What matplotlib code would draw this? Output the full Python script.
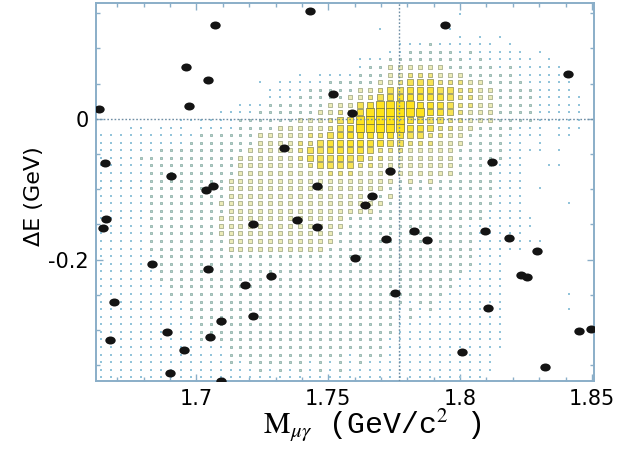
import numpy as np
import matplotlib.pyplot as plt
from matplotlib.markers import MarkerStyle
from matplotlib.transforms import Affine2D
from matplotlib.ticker import MultipleLocator

plt.rcParams['mathtext.fontset'] = 'stix'

# axis window (GeV/c^2 and GeV)
m_lo, m_hi = 1.6619, 1.8509
de_lo, de_hi = -0.3726, 0.1650
tau_mass = 1.777

# signal MC box plot, 50 x 50 bins, level 0..9 = box size, top row first
box_levels = [
    "0000000000" "0000000000" "0000000000" "0000000000" "0000000000",
    "0000000000" "0000000000" "0000000000" "0000001000" "0000000000",
    "0000000000" "0000000000" "0000000000" "0000000000" "0000000000",
    "0000000000" "0000000000" "0000000010" "0000010000" "0000000000",
    "0000000000" "0000000000" "0000000000" "0000001010" "1000000000",
    "0000000000" "0000000000" "0000000000" "1112111111" "0100000000",
    "0000000000" "0000000000" "0000000001" "1222221211" "1110100000",
    "0000000000" "0000000000" "0000001112" "2222222121" "1111010000",
    "0000000000" "0000000000" "0000001223" "3333322222" "1211111000",
    "0000000000" "0000000000" "1011112223" "3444333222" "2211111100",
    "0000000000" "0000001011" "1112222233" "4555444332" "2221111100",
    "0000000000" "0000000111" "1222223345" "5666554433" "2222111100",
    "0000000000" "0000000111" "2222233456" "7776654433" "2222111110",
    "0000000000" "0000111222" "2223335688" "8877654433" "2222111110",
    "0000000000" "0011112222" "2233446899" "9887654333" "2222111110",
    "0000000011" "1111222222" "3334568999" "8775544333" "2222111110",
    "0001101110" "1111222233" "3334578898" "8665443322" "2211101110",
    "1111111111" "2222223333" "3445677777" "6554433222" "2111101100",
    "1111111112" "2222223333" "4456677665" "5444333222" "2110100000",
    "1111112222" "2222233333" "4556666544" "4333332222" "2111101000",
    "1111222222" "2222333333" "4555655443" "3333332222" "2110000000",
    "1111122222" "2222333333" "3455554433" "3333332222" "1110011000",
    "1111122222" "2222333333" "3334443333" "3333332222" "1110000000",
    "1111122222" "2223333333" "3333333333" "2323222222" "1110000000",
    "1111122222" "2223333333" "3333333332" "2222222222" "1110100000",
    "1111122222" "2223333333" "3333333323" "2222222222" "1110000000",
    "1111122222" "2233333333" "3333333332" "2222222222" "1110000100",
    "1111122222" "2223333333" "3333333322" "2222222221" "1110000000",
    "1111122222" "2233333333" "3333322222" "2222222221" "1111000000",
    "1111122222" "2233333333" "3333322222" "2222222111" "1111000000",
    "1111122222" "2233333333" "3333222222" "2222222211" "1110000000",
    "1111122222" "2223333333" "3333222222" "2222222211" "1111100000",
    "1111122222" "2223333333" "3332222222" "2222222211" "1110000000",
    "1111112222" "2222222222" "2222222222" "2222222211" "1000000000",
    "1111112222" "2222222222" "2222222222" "2222222211" "1000000000",
    "1111112222" "2222222222" "2222222222" "2222222111" "1000000000",
    "1111112222" "2222222222" "2222222222" "2222221111" "1000000000",
    "1111111222" "2222222222" "2222222222" "2222221111" "1000000000",
    "1111111222" "2222222222" "2222222222" "2222211111" "1000000100",
    "1111111112" "2222222222" "2222222222" "2122111111" "1000000000",
    "1111111112" "2222222222" "2222222222" "1212111111" "1000000100",
    "1111111112" "2222222222" "2222222222" "1211111111" "1000000000",
    "1111111111" "2222222222" "2222222222" "1111111111" "1000000000",
    "1111111111" "2222222222" "2222222222" "1111111111" "1000000000",
    "1111111111" "2222222222" "2222222221" "1111111111" "1000000000",
    "1111111111" "1112222222" "2222222221" "1111111111" "1000000000",
    "1111111111" "1112222222" "2222212221" "1111111111" "0000000000",
    "1111111111" "1112122222" "2121212111" "1111111111" "0000000000",
    "1111111111" "1111112121" "2121211111" "1111111111" "0000000000",
    "1111111111" "1111111111" "1111111111" "1111111110" "0000000000",
]

# candidate events
ev_mass = [1.7432, 1.7071, 1.7944, 1.6962, 1.7045, 1.8411, 1.7519, 1.6972,
           1.6632, 1.7591, 1.8121, 1.6654, 1.7331, 1.7735, 1.6904, 1.7457,
           1.7063, 1.7037, 1.7667, 1.7638, 1.6657, 1.7383, 1.6646, 1.7216,
           1.7457, 1.7825, 1.8095, 1.7719, 1.7875, 1.8186, 1.8290, 1.7600,
           1.6833, 1.7042, 1.7281, 1.7185, 1.8232, 1.8252, 1.7754, 1.6688,
           1.8105, 1.7214, 1.7094, 1.8449, 1.8497, 1.6888, 1.7050, 1.6672,
           1.6954, 1.8006, 1.8323, 1.6898, 1.7093]
ev_de = [0.1529, 0.1333, 0.1328, 0.0742, 0.0557, 0.0638, 0.0352, 0.0177,
         0.0142, 0.0089, -0.0620, -0.0630, -0.0411, -0.0740, -0.0814, -0.0949,
         -0.0960, -0.1013, -0.1099, -0.1227, -0.1426, -0.1435, -0.1556, -0.1489,
         -0.1538, -0.1589, -0.1589, -0.1712, -0.1716, -0.1691, -0.1872, -0.1982,
         -0.2070, -0.2135, -0.2233, -0.2355, -0.2223, -0.2251, -0.2478, -0.2601,
         -0.2687, -0.2797, -0.2879, -0.3017, -0.2993, -0.3034, -0.3095, -0.3145,
         -0.3287, -0.3319, -0.3528, -0.3617, -0.3723]

# box look per level
box_px = [0, 1.5, 2.4, 3.5, 4.4, 5.1, 5.8, 6.5, 7.1, 7.6]
box_face = ['none', '#92c4da', '#b2d0c8', '#ecebb8', '#f2e67e', '#f6e254',
            '#fbe236', '#fde32a', '#ffe31e', '#ffe414']
box_edge = ['none', '#92c4da', '#86aaa2', '#98a27c', '#8e925e', '#868852',
            '#7e8048', '#787a42', '#727440', '#6e703c']
frame_col = '#8aaec8'

fig = plt.figure(figsize=(6.22, 4.5), dpi=100)
ax = fig.add_axes([0.1543, 0.1533, 0.8012, 0.8407])

lev = np.array([[int(c) for c in row] for row in box_levels])
nrow, ncol = lev.shape
m_edges = np.linspace(m_lo, m_hi, ncol + 1)
de_edges = np.linspace(de_hi, de_lo, nrow + 1)
m_c = 0.5 * (m_edges[:-1] + m_edges[1:])
de_c = 0.5 * (de_edges[:-1] + de_edges[1:])
mm, dd = np.meshgrid(m_c, de_c)

for k in range(1, 10):
    sel = lev == k
    if not sel.any():
        continue
    ax.scatter(mm[sel], dd[sel], marker='s', s=(0.72 * box_px[k]) ** 2,
               facecolor=box_face[k], edgecolor=box_edge[k],
               linewidths=0.5 if k > 1 else 0, zorder=2)

ax.axvline(tau_mass, color='#6f8ea4', lw=1.0, ls=(0, (1.2, 1.4)), zorder=3)
ax.axhline(0, color='#6f8ea4', lw=1.0, ls=(0, (1.2, 1.4)), zorder=3)

dot = MarkerStyle('o', transform=Affine2D().scale(1.3, 1.0))
ax.scatter(ev_mass, ev_de, marker=dot, s=(0.72 * 8) ** 2, color='#141414',
           linewidths=0, zorder=4)

ax.set_xlim(m_lo, m_hi)
ax.set_ylim(de_lo, de_hi)

ax.xaxis.set_major_locator(MultipleLocator(0.05))
ax.xaxis.set_minor_locator(MultipleLocator(0.01))
ax.yaxis.set_major_locator(MultipleLocator(0.2))
ax.yaxis.set_minor_locator(MultipleLocator(0.05))
ax.xaxis.set_major_formatter(lambda v, p: ('%.2f' % v).rstrip('0'))
ax.yaxis.set_major_formatter(lambda v, p: '0' if abs(v) < 1e-9 else ('%.1f' % v))

ax.tick_params(which='both', direction='in', top=True, right=True,
               color=frame_col, width=1.0)
ax.tick_params(which='major', length=5, labelsize=15, pad=6)
ax.tick_params(which='minor', length=3)
ax.tick_params(axis='y', which='major', pad=5)
for lab in ax.get_xticklabels() + ax.get_yticklabels():
    lab.set_family('DejaVu Sans')

for sp in ax.spines.values():
    sp.set_color(frame_col)
    sp.set_linewidth(1.4)

ax.set_ylabel('ΔE (GeV)', fontsize=16, family='DejaVu Sans')
ax.yaxis.set_label_coords(-0.104, 0.49)
ax.set_xlabel(r'$\mathrm{M}_{\mu\gamma}$ (GeV/c$^{\mathit{2}}$ )',
              fontsize=21.5, family='Liberation Mono')
ax.xaxis.set_label_coords(0.555, -0.071)

fig.savefig('out.png', dpi=100)
